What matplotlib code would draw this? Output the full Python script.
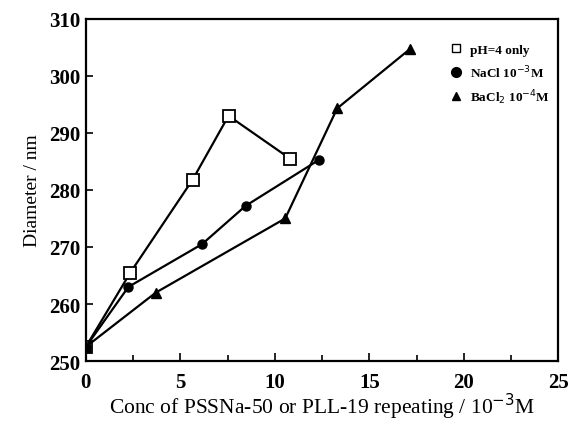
import numpy as np
import matplotlib.pyplot as plt
from matplotlib.ticker import MultipleLocator

plt.rcParams['font.family'] = ['Liberation Serif', 'DejaVu Serif']

# pH=4 only
x_ph = [0, 2.35, 5.65, 7.55, 10.8]
y_ph = [252.5, 265.5, 281.8, 293.0, 285.5]
# NaCl 10^-3 M
x_nacl = [0, 2.25, 6.15, 8.45, 12.35]
y_nacl = [252.5, 263.0, 270.5, 277.2, 285.3]
# BaCl2 10^-4 M
x_bacl = [0, 3.7, 10.55, 13.3, 17.15]
y_bacl = [252.5, 262.0, 275.0, 294.3, 304.7]

labels = ['pH=4 only', 'NaCl 10$^{-3}$M', 'BaCl$_2$ 10$^{-4}$M']

fig = plt.figure(figsize=(5.69, 4.31), dpi=100)
ax = fig.add_axes([0.151, 0.160, 0.830, 0.794])

lw = 1.6
p1, = ax.plot(x_ph, y_ph, '-s', color='black', lw=lw, ms=8,
              markerfacecolor='white', markeredgewidth=1.3)
p2, = ax.plot(x_nacl, y_nacl, '-o', color='black', lw=lw, ms=6.5)
p3, = ax.plot(x_bacl, y_bacl, '-^', color='black', lw=lw, ms=6.5)

ax.set_xlim(0, 25)
ax.set_ylim(250, 310)
ax.xaxis.set_major_locator(MultipleLocator(5))
ax.xaxis.set_minor_locator(MultipleLocator(2.5))
ax.yaxis.set_major_locator(MultipleLocator(10))
ax.tick_params(which='both', direction='in', width=1.2)
ax.tick_params(axis='x', which='major', length=6, pad=8, labelsize=15)
ax.tick_params(axis='x', which='minor', length=4)
ax.tick_params(axis='y', which='major', length=5, pad=4, labelsize=15)
for lab in ax.get_xticklabels() + ax.get_yticklabels():
    lab.set_fontweight('bold')
for s in ax.spines.values():
    s.set_linewidth(1.6)

ax.set_xlabel('Conc of PSSNa-50 or PLL-19 repeating / 10$^{-3}$M',
              fontsize=15.5, labelpad=-1)
ax.set_ylabel('Diameter / nm', fontsize=14, labelpad=6)

# legend: markers only, no line
h1 = plt.Line2D([], [], ls='none', marker='s', color='black', ms=6,
                markerfacecolor='white')
h2 = plt.Line2D([], [], ls='none', marker='o', color='black', ms=7)
h3 = plt.Line2D([], [], ls='none', marker='^', color='black', ms=6)
leg = ax.legend([h1, h2, h3], labels, loc='upper right', frameon=False,
                fontsize=9.5, handlelength=1.0, handletextpad=0.6,
                labelspacing=0.55, borderaxespad=0.2,
                bbox_to_anchor=(1.0, 0.95))
for t in leg.get_texts():
    t.set_fontweight('bold')

fig.savefig('out.png', dpi=100)
